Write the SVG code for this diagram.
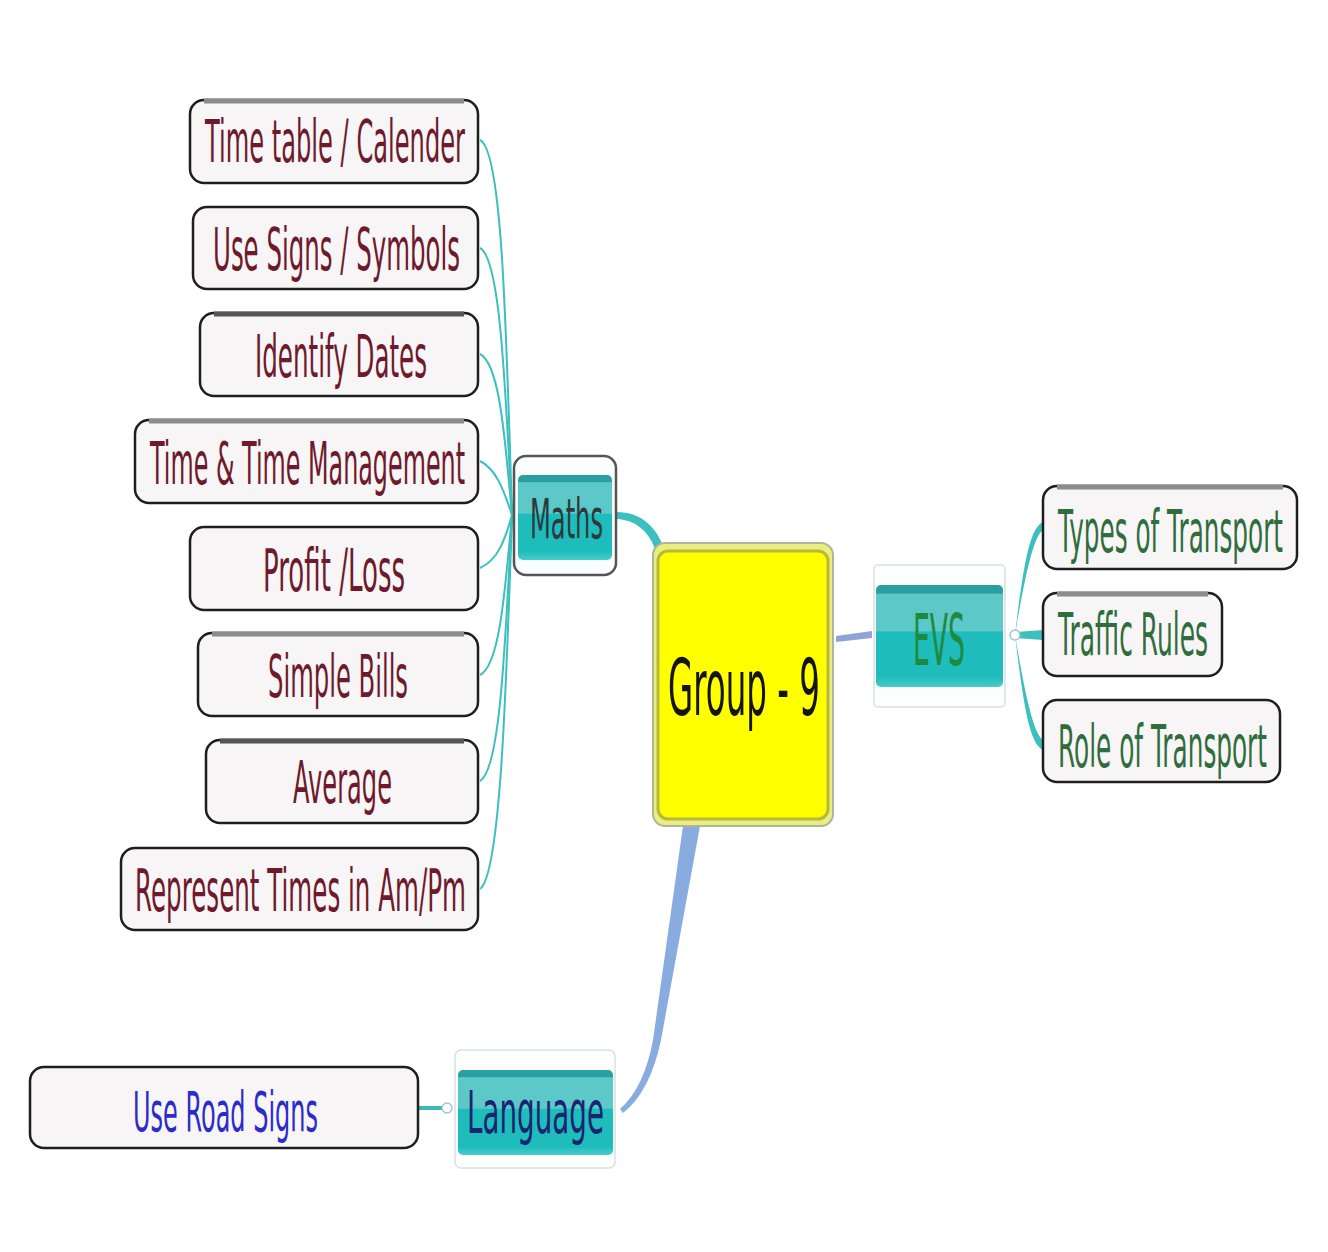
<svg xmlns="http://www.w3.org/2000/svg" width="1328" height="1252" viewBox="0 0 1328 1252">
<style>
text{font-family:"DejaVu Sans","Liberation Sans",sans-serif}
.box{fill:#f7f5f5;stroke:#1e1e1e;stroke-width:2.5}
.top{fill:none;stroke:#8c8c8c;stroke-width:5}
.m{fill:#6e1a2c;font-size:22.3px}
.e{fill:#2f6d3d;font-size:22.3px}
.c{fill:none;stroke:#3cbfbf;stroke-width:2}
.frame{fill:#fdfefe;stroke:#d6e2e2;stroke-width:1.5}
</style>
<defs>
<linearGradient id="teal" x1="0" y1="0" x2="0" y2="1">
<stop offset="0" stop-color="#2a9fa3"/>
<stop offset="0.08" stop-color="#2a9fa3"/>
<stop offset="0.09" stop-color="#5cc8c8"/>
<stop offset="0.45" stop-color="#5cc8c8"/>
<stop offset="0.46" stop-color="#1fbcbc"/>
<stop offset="0.9" stop-color="#1fbcbc"/>
<stop offset="1" stop-color="#48cccc"/>
</linearGradient>
</defs>
<rect width="1328" height="1252" fill="#ffffff"/>
<g id="connectors">
<path class="c" d="M480 140 C502 150 506 320 512 515"/>
<path class="c" d="M480 248 C500 258 505 380 512 515"/>
<path class="c" d="M480 354 C500 364 505 440 512 515"/>
<path class="c" d="M480 461 C498 470 505 495 512 515"/>
<path class="c" d="M480 568 C498 560 505 540 512 515"/>
<path class="c" d="M480 675 C500 665 505 590 512 515"/>
<path class="c" d="M480 781 C500 770 505 650 512 515"/>
<path class="c" d="M480 889 C500 875 506 700 512 515"/>
<path d="M617 512 C640 512 656 526 664 548 L656 552 C650 532 636 520 617 519 Z" fill="#3cbfbf"/>
<path d="M836 636 L872 631 L872 638 L836 642 Z" fill="#8ea4d8"/>
<path d="M683 826 L700 826 L661 1040 Q650 1092 623 1113 L620 1109 Q644 1088 653 1040 Z" fill="#88ace0"/>
<path d="M1015 635 C1024 560 1030 528 1043 522 L1043 530 C1034 536 1026 570 1015 635 Z" fill="#3cbfbf"/>
<path d="M1015 632 L1043 630 L1043 640 L1015 638 Z" fill="#3cbfbf"/>
<path d="M1015 635 C1026 700 1034 734 1043 740 L1043 750 C1030 744 1024 710 1015 635 Z" fill="#3cbfbf"/>
<circle cx="1015" cy="635" r="5" fill="#ffffff" stroke="#9cc8d0" stroke-width="1.5"/>
<path d="M418 1108 L442 1108" stroke="#3cb8b8" stroke-width="4"/>
<circle cx="447" cy="1108" r="5" fill="#ffffff" stroke="#9cc8d0" stroke-width="1.5"/>
</g>
<g id="time-table">
<rect class="box" x="190" y="100" width="288" height="83" rx="14"/>
<path class="top" d="M204 101 L464 101"/>
<text class="m" transform="translate(205 162) scale(1 2.6)" textLength="260" lengthAdjust="spacingAndGlyphs">Time table / Calender</text>
</g>
<g id="use-signs">
<rect class="box" x="193" y="207" width="285" height="82" rx="14"/>
<text class="m" transform="translate(213 270) scale(1 2.6)" textLength="247" lengthAdjust="spacingAndGlyphs">Use Signs / Symbols</text>
</g>
<g id="identify-dates">
<rect class="box" x="200" y="313" width="278" height="83" rx="14"/>
<path class="top" d="M214 314 L464 314" style="stroke:#555"/>
<text class="m" transform="translate(255 377) scale(1 2.6)" textLength="172" lengthAdjust="spacingAndGlyphs">Identify Dates</text>
</g>
<g id="time-management">
<rect class="box" x="135" y="420" width="343" height="83" rx="14"/>
<path class="top" d="M149 421 L464 421"/>
<text class="m" transform="translate(150 484) scale(1 2.6)" textLength="315" lengthAdjust="spacingAndGlyphs">Time &amp; Time Management</text>
</g>
<g id="profit-loss">
<rect class="box" x="190" y="527" width="288" height="83" rx="14"/>
<text class="m" transform="translate(263 591) scale(1 2.6)" textLength="142" lengthAdjust="spacingAndGlyphs">Profit /Loss</text>
</g>
<g id="simple-bills">
<rect class="box" x="198" y="633" width="280" height="83" rx="14"/>
<path class="top" d="M212 634 L464 634"/>
<text class="m" transform="translate(268 697) scale(1 2.6)" textLength="140" lengthAdjust="spacingAndGlyphs">Simple Bills</text>
</g>
<g id="average">
<rect class="box" x="206" y="740" width="272" height="83" rx="14"/>
<path class="top" d="M220 741 L464 741" style="stroke:#555"/>
<text class="m" transform="translate(293 803) scale(1 2.6)" textLength="99" lengthAdjust="spacingAndGlyphs">Average</text>
</g>
<g id="represent-times">
<rect class="box" x="121" y="848" width="357" height="82" rx="14"/>
<text class="m" transform="translate(135 911) scale(1 2.6)" textLength="331" lengthAdjust="spacingAndGlyphs">Represent Times in Am/Pm</text>
</g>
<g id="maths">
<rect x="514" y="456" width="102" height="119" rx="12" fill="#fbfefe" stroke="#555" stroke-width="2.5"/>
<rect x="518" y="475" width="94" height="85" rx="5" fill="url(#teal)"/>
<text transform="translate(530 538) scale(1 2.6)" font-size="21.5" fill="#2c3a3c" textLength="73" lengthAdjust="spacingAndGlyphs">Maths</text>
</g>
<g id="group-9">
<rect x="653" y="543" width="180" height="283" rx="12" fill="#e8ef80" stroke="#b0b49a" stroke-width="2"/>
<rect x="658" y="551" width="170" height="268" rx="10" fill="#ffff00" stroke="#b8b83a" stroke-width="3"/>
<text transform="translate(668 715) scale(1 2.6)" font-size="30" fill="#141414" textLength="152" lengthAdjust="spacingAndGlyphs">Group - 9</text>
</g>
<g id="evs">
<rect class="frame" x="874" y="565" width="131" height="142" rx="4"/>
<rect x="876" y="585" width="127" height="102" rx="5" fill="url(#teal)"/>
<text transform="translate(913 665) scale(1 2.6)" font-size="27.3" fill="#1e8a40" textLength="52" lengthAdjust="spacingAndGlyphs">EVS</text>
</g>
<g id="types-of-transport">
<rect class="box" x="1043" y="486" width="254" height="83" rx="14"/>
<path class="top" d="M1057 487 L1283 487"/>
<text class="e" transform="translate(1058 552) scale(1 2.6)" textLength="225" lengthAdjust="spacingAndGlyphs">Types of Transport</text>
</g>
<g id="traffic-rules">
<rect class="box" x="1043" y="593" width="179" height="83" rx="14"/>
<path class="top" d="M1057 594 L1208 594"/>
<text class="e" transform="translate(1058 655) scale(1 2.6)" textLength="150" lengthAdjust="spacingAndGlyphs">Traffic Rules</text>
</g>
<g id="role-of-transport">
<rect class="box" x="1043" y="700" width="237" height="82" rx="14"/>
<text class="e" transform="translate(1058 767) scale(1 2.6)" textLength="209" lengthAdjust="spacingAndGlyphs">Role of Transport</text>
</g>
<g id="language">
<rect class="frame" x="455" y="1050" width="160" height="118" rx="6"/>
<rect x="458" y="1070" width="155" height="85" rx="5" fill="url(#teal)"/>
<text transform="translate(467 1133) scale(1 2.6)" font-size="22.7" fill="#1a2470" textLength="137" lengthAdjust="spacingAndGlyphs">Language</text>
</g>
<g id="use-road-signs">
<rect class="box" x="30" y="1067" width="388" height="81" rx="14"/>
<text transform="translate(133 1131) scale(1 2.6)" font-size="21.2" fill="#2b2bcc" textLength="185" lengthAdjust="spacingAndGlyphs">Use Road Signs</text>
</g>
</svg>
